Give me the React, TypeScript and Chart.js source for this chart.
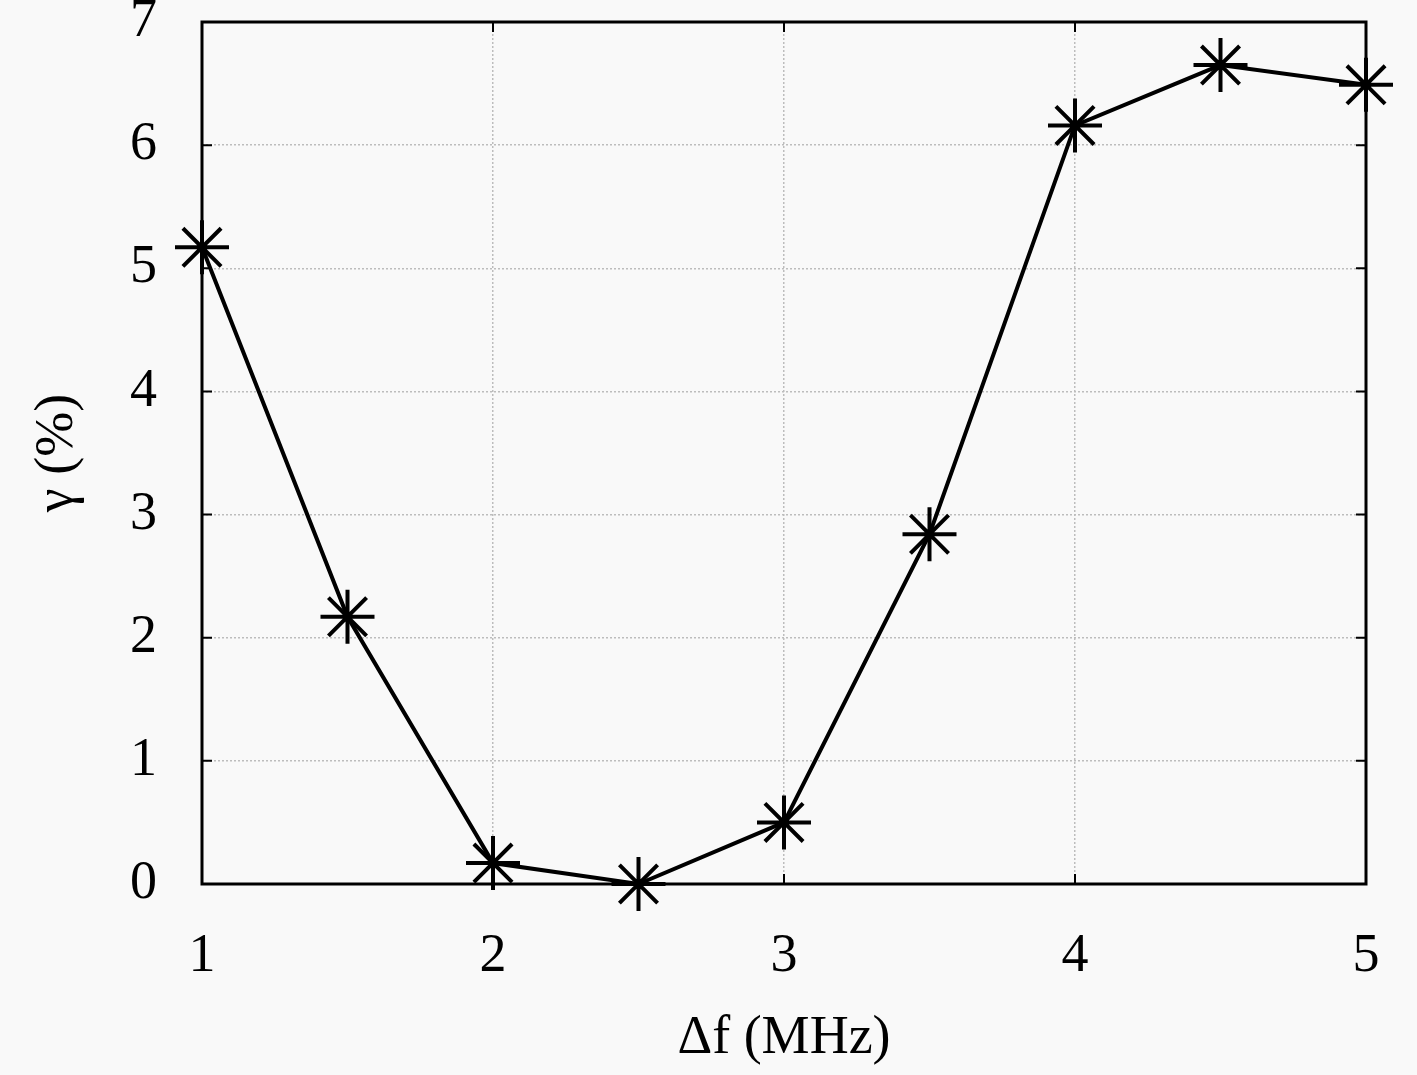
import { useEffect, useRef } from 'react'
import { Chart, registerables, Plugin } from 'chart.js'

Chart.register(...registerables)

const freqs = [1, 1.5, 2, 2.5, 3, 3.5, 4, 4.5, 5]
const gamma = [5.17, 2.17, 0.17, 0.0, 0.5, 2.84, 6.16, 6.65, 6.49]
const xTicks = [1, 2, 3, 4, 5]
const yTicks = [0, 1, 2, 3, 4, 5, 6, 7]

const FONT = "'Liberation Serif', 'DejaVu Serif', serif"

// MATLAB-ish box with inward ticks on all four sides
const frame: Plugin = {
  id: 'frame',
  afterDatasetsDraw(chart) {
    const { ctx, chartArea: a, scales } = chart
    const len = 10
    ctx.save()
    ctx.strokeStyle = '#000'
    ctx.lineWidth = 2
    ctx.beginPath()
    for (const v of xTicks) {
      const x = scales.x.getPixelForValue(v)
      ctx.moveTo(x, a.bottom)
      ctx.lineTo(x, a.bottom - len)
      ctx.moveTo(x, a.top)
      ctx.lineTo(x, a.top + len)
    }
    for (const v of yTicks) {
      const y = scales.y.getPixelForValue(v)
      ctx.moveTo(a.left, y)
      ctx.lineTo(a.left + len, y)
      ctx.moveTo(a.right, y)
      ctx.lineTo(a.right - len, y)
    }
    ctx.stroke()
    ctx.lineWidth = 3
    ctx.strokeRect(a.left, a.top, a.right - a.left, a.bottom - a.top)
    ctx.restore()
  },
}

const bg: Plugin = {
  id: 'bg',
  beforeDraw(chart) {
    const { ctx, width, height } = chart
    ctx.save()
    ctx.fillStyle = '#f9f9f9'
    ctx.fillRect(0, 0, width, height)
    ctx.restore()
  },
}

export default function App() {
  const canvasRef = useRef<HTMLCanvasElement>(null)
  const chartRef = useRef<Chart | null>(null)

  useEffect(() => {
    document.body.style.margin = '0'
    if (!canvasRef.current) return
    if (chartRef.current) chartRef.current.destroy()

    chartRef.current = new Chart(canvasRef.current, {
      type: 'line',
      data: {
        datasets: [
          {
            data: freqs.map((f, i) => ({ x: f, y: gamma[i] })),
            borderColor: '#000',
            borderWidth: 4,
            pointStyle: 'star',
            pointRadius: 27,
            pointBorderWidth: 4,
            pointBorderColor: '#000',
            pointBackgroundColor: '#000',
            tension: 0,
            fill: false,
            clip: false,
          },
        ],
      },
      options: {
        animation: false,
        responsive: true,
        maintainAspectRatio: false,
        layout: { autoPadding: false, padding: { top: 22, right: 51, bottom: 0, left: 0 } },
        plugins: { legend: { display: false }, tooltip: { enabled: false } },
        scales: {
          x: {
            type: 'linear',
            min: 1,
            max: 5,
            afterBuildTicks: (s) => { s.ticks = xTicks.map((v) => ({ value: v })) },
            afterFit: (s) => {
              s.height = 1075 - 884
              s.paddingLeft = 0
              s.paddingRight = 0
            },
            grid: { color: '#bdbdbd', lineWidth: 1.5, drawTicks: false },
            border: { display: false, dash: [2, 2] },
            ticks: { color: '#000', padding: 40, font: { family: FONT, size: 54 } },
            title: {
              display: true,
              text: 'Δf (MHz)',
              color: '#000',
              padding: { top: 0, bottom: 4 },
              font: { family: FONT, size: 54 },
            },
          },
          y: {
            min: 0,
            max: 7,
            afterBuildTicks: (s) => { s.ticks = yTicks.map((v) => ({ value: v })) },
            afterFit: (s) => {
              s.width = 202
              s.paddingTop = 0
              s.paddingBottom = 0
            },
            grid: { color: '#bdbdbd', lineWidth: 1.5, drawTicks: false },
            border: { display: false, dash: [2, 2] },
            ticks: { color: '#000', padding: 45, font: { family: FONT, size: 54, lineHeight: 0.6 } },
            title: {
              display: true,
              text: 'γ (%)',
              color: '#000',
              padding: { top: 25, bottom: 0 },
              font: { family: FONT, size: 54 },
            },
          },
        },
      },
      plugins: [bg, frame],
    })

    return () => { chartRef.current?.destroy() }
  }, [])

  return (
    <div style={{ position: 'relative', width: 1417, height: 1075 }}>
      <canvas ref={canvasRef} />
    </div>
  )
}
